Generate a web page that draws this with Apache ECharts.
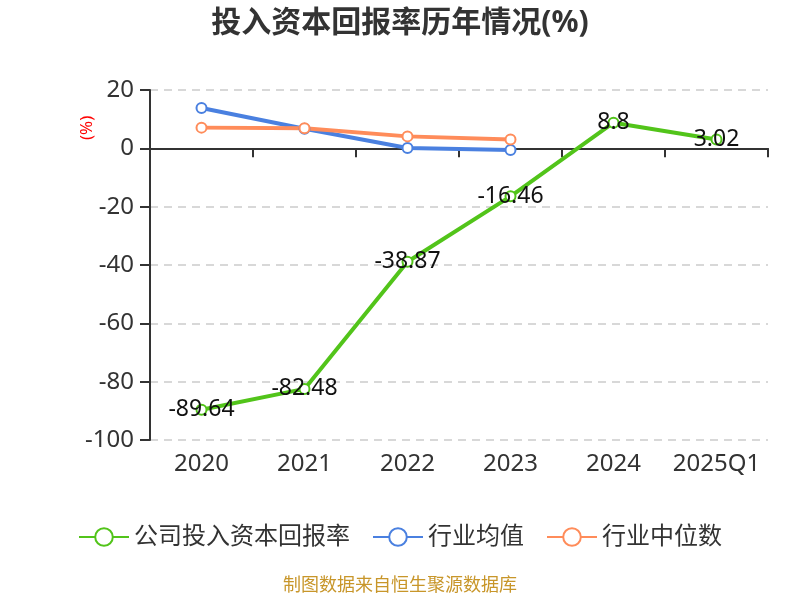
<!DOCTYPE html>
<html><head><meta charset="utf-8">
<script src="https://cdn.jsdelivr.net/npm/echarts@6/dist/echarts.min.js"></script>
<style>html,body{margin:0;padding:0;background:#fff}#c{width:800px;height:600px}</style>
</head><body><div id="c"></div>
<script>
const categories = ['2020','2021','2022','2023','2024','2025Q1'];
const companyValues = [-89.64, -82.48, -38.87, -16.46, 8.8, 3.02];
const industryAvg = [13.8, 6.7, 0.1, -0.6, null, null];
const industryMedian = [7.1, 6.9, 4.1, 3.0, null, null];
const yTicks = {min: -100, max: 20, interval: 20};

const font = '"Noto Sans", "Noto Sans CJK SC", sans-serif';
const chart = echarts.init(document.getElementById('c'));
chart.setOption({
  backgroundColor: '#fff',
  textStyle: {fontFamily: font},
  title: {
    text: '投入资本回报率历年情况(%)', left: 'center', top: 3,
    textStyle: {fontSize: 30, fontWeight: 'bold', color: '#333', fontFamily: font}
  },
  graphic: [{
    type: 'text', left: 'center', top: 577,
    style: {text: '制图数据来自恒生聚源数据库', fill: '#c8962a', fontSize: 18, fontFamily: font}
  }, {
    type: 'text', x: 79, y: 140, rotation: Math.PI / 2,
    style: {text: '(%)', fill: '#f00', fontSize: 17, fontFamily: font}
  }],
  legend: {
    bottom: 46, left: 'center', itemWidth: 50, itemHeight: 22, itemGap: 22,
    textStyle: {fontSize: 24, color: '#333', fontFamily: font},
    data: ['公司投入资本回报率','行业均值','行业中位数']
  },
  grid: {left: 150, right: 32, top: 90, bottom: 160},
  xAxis: [{
    type: 'category', data: categories, boundaryGap: true,
    axisLine: {onZero: true, lineStyle: {color: '#333', width: 2}},
    axisTick: {show: true, length: 9, lineStyle: {color: '#333', width: 2}},
    axisLabel: {show: false}, splitLine: {show: false}
  }, {
    type: 'category', data: categories, boundaryGap: true, position: 'bottom',
    axisLine: {show: false}, axisTick: {show: false},
    axisLabel: {interval: 0, fontSize: 24, color: '#333', margin: 12, fontFamily: font}
  }],
  yAxis: {
    type: 'value', min: yTicks.min, max: yTicks.max, interval: yTicks.interval,
    axisLine: {show: true, lineStyle: {color: '#333', width: 2}},
    axisTick: {show: true, length: 10, lineStyle: {color: '#333', width: 2}},
    axisLabel: {fontSize: 24, color: '#333', margin: 16, fontFamily: font},
    splitLine: {lineStyle: {type: [8, 6], color: '#ccc', width: 1.5}}
  },
  series: [{
    name: '公司投入资本回报率', type: 'line', data: companyValues,
    color: '#52c41a', symbol: 'circle', symbolSize: 10,
    itemStyle: {color: '#fff', borderColor: '#52c41a', borderWidth: 2},
    lineStyle: {color: '#52c41a', width: 4},
    label: {show: true, position: 'inside', fontSize: 23, color: '#111', fontFamily: font},
    z: 3
  }, {
    name: '行业均值', type: 'line', data: industryAvg,
    color: '#4a80e0', symbol: 'circle', symbolSize: 10,
    itemStyle: {color: '#fff', borderColor: '#4a80e0', borderWidth: 2},
    lineStyle: {color: '#4a80e0', width: 4}, z: 2
  }, {
    name: '行业中位数', type: 'line', data: industryMedian,
    color: '#ff8c5a', symbol: 'circle', symbolSize: 10,
    itemStyle: {color: '#fff', borderColor: '#ff8c5a', borderWidth: 2},
    lineStyle: {color: '#ff8c5a', width: 4}, z: 2
  }]
});
</script></body></html>
